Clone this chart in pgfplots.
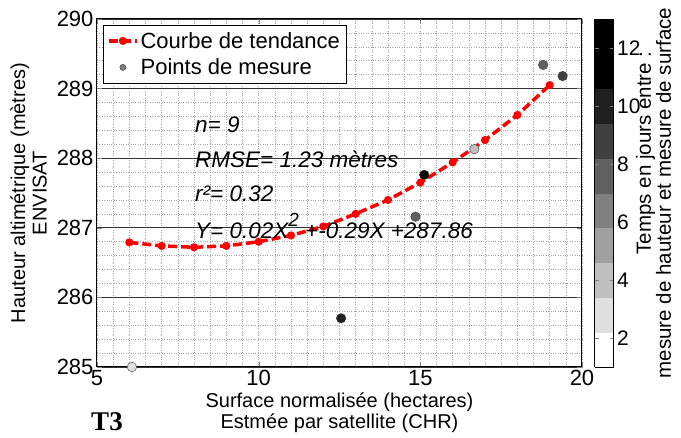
\documentclass[border=0pt]{standalone}
\usepackage{pgfplots}
\pgfplotsset{compat=1.18}
\usepackage{fontspec}
\setmainfont{Liberation Sans}
\newfontfamily\serifbold{Liberation Serif}
\pgfplotsset{/pgf/number format/assume math mode=true}

\pgfplotstableread{
x y
6 286.79
7 286.74
8 286.72
9 286.74
10 286.80
11 286.89
12 287.02
13 287.20
14 287.40
15 287.65
16 287.94
17 288.26
18 288.62
19 289.05
}\trend

\pgfplotstableread{
x y c
6.08 285.00 3.0
12.55 285.70 9.5
14.85 287.16 7.0
15.12 287.76 12.5
16.67 288.13 4.5
18.80 289.34 7.0
19.40 289.18 8.3
}\points

\begin{document}
\begin{tikzpicture}
\path[use as bounding box] (-97pt,-71pt) rectangle (584pt,367pt);
\begin{axis}[
  at={(0pt,0pt)}, anchor=south west,
  scale only axis, width=485pt, height=348pt,
  xmin=5, xmax=20, ymin=285, ymax=290,
  xtick={5,10,15,20}, ytick={285,286,287,288,289,290},
  minor x tick num=9, minor y tick num=4,
  xmajorgrids=true, ymajorgrids=true, xminorgrids=true, yminorgrids=true,
  major y grid style={black!80, line width=0.8pt},
  major x grid style={gray!70, dotted, line width=0.6pt},
  minor grid style={gray!70, dotted, line width=0.6pt},
  tick align=inside, major tick length=5pt, minor tick length=0pt,
  axis line style={black, line width=1pt},
  /pgf/number format/1000 sep={},
  ticklabel style={font=\fontsize{22}{24}\selectfont},
  xlabel={Surface normalisée (hectares)\\Estmée par satellite (CHR)},
  ylabel={Hauteur altimétrique (mètres)\\ENVISAT},
  label style={font=\fontsize{20}{21.5}\selectfont, align=center},
  xlabel style={at={(axis description cs:0.5,-0.1307)}, anchor=center},
  ylabel style={at={(axis description cs:-0.1412,0.5)}, anchor=center},
  colormap={steps}{gray=(1) gray=(0.875) gray=(0.75) gray=(0.625) gray=(0.5) gray=(0.375) gray=(0.25) gray=(0.125) gray=(0) gray=(0)},
  colormap access=piecewise constant,
  point meta min=1, point meta max=13,
  colorbar shift/.style={xshift=-3pt},
  colorbar,
  colorbar style={
    width=19pt,
    ytick={2,4,6,8,10,12},
    yticklabel style={font=\fontsize{21}{23}\selectfont},
    major tick length=4pt,
    axis line style={line width=0.6pt},
    ylabel={\hspace*{80pt}Temps en jours entre :\\mesure de hauteur et mesure de surface},
    ylabel style={font=\fontsize{20.5}{20}\selectfont, align=center, at={(axis description cs:3.105,0.5)}, anchor=center},
  },
  legend style={at={(rel axis cs:0.012,0.983)}, anchor=north west,
    font=\fontsize{22}{24}\selectfont, draw=black, line width=0.6pt,
    inner xsep=4pt, inner ysep=5pt, row sep=5pt, cells={anchor=west}},
  legend image code/.code={\draw[mark repeat=2,mark phase=2,#1] plot coordinates {(0pt,0pt) (14pt,0pt) (28pt,0pt)};},
]
\addplot[red, line width=3.5pt, dash pattern=on 9pt off 4pt, mark=*, mark size=2.2pt, mark options={solid, fill=red}] table {\trend};
\addlegendentry{Courbe de tendance}
\addlegendimage{only marks, mark=*, mark size=3pt, draw=black!70, fill=gray}
\addlegendentry{Points de mesure}
\addplot[scatter, only marks, mark=*, mark size=4.8pt, point meta=explicit,
  scatter/use mapped color={draw=black!75, fill=mapped color}, forget plot]
  table[x=x, y=y, meta=c] {\points};

\node[anchor=base west, inner sep=0pt, font=\fontsize{22.5}{24}\selectfont\itshape] at (axis cs:8.03,288.37) {n= 9};
\node[anchor=base west, inner sep=0pt, font=\fontsize{22.5}{24}\selectfont\itshape] at (axis cs:8.03,287.87) {RMSE= 1.23 mètres};
\node[anchor=base west, inner sep=0pt, font=\fontsize{22.5}{24}\selectfont\itshape] at (axis cs:8.03,287.38) {r²= 0.32};
\node[anchor=base west, inner sep=0pt, font=\fontsize{22.5}{24}\selectfont\itshape] at (axis cs:8.03,286.85) {Y= 0.02X\raisebox{12pt}{\fontsize{19}{20}\selectfont 2} +-0.29X +287.86};
\end{axis}
\node[font=\fontsize{27}{30}\selectfont\serifbold\bfseries] at (10pt,-55pt) {T3};
\end{tikzpicture}
\end{document}
